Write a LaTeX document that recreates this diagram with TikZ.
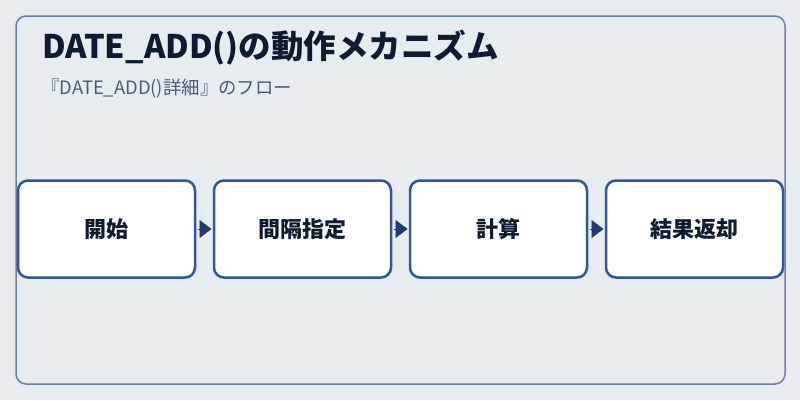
\documentclass[tikz,border=0pt]{standalone}
\usepackage{fontspec}
\setmainfont{Noto Sans CJK JP}
\usetikzlibrary{arrows.meta, positioning}

\definecolor{bgcol}{HTML}{E7ECF1}
\definecolor{framecol}{HTML}{6B80A8}
\definecolor{boxcol}{HTML}{2F55A4}
\definecolor{arrowcol}{HTML}{1E3A70}
\definecolor{titlecol}{HTML}{0F1B33}
\definecolor{subcol}{HTML}{4A5A7A}

\begin{document}
\begin{tikzpicture}[
    x=1pt, y=-1pt,
    node distance=19pt,
    panel/.style={rectangle, rounded corners=10pt, draw=framecol, line width=1.5pt, fill=bgcol, minimum width=769pt, minimum height=368pt},
    stage/.style={rectangle, rounded corners=10pt, minimum width=177pt, minimum height=97pt, outer sep=0pt, text centered, draw=boxcol, fill=white, line width=2.5pt, font=\fontsize{22pt}{26pt}\selectfont\bfseries, text=titlecol},
    arrow/.style={-{Triangle[length=12pt, width=18pt]}, draw=arrowcol, fill=arrowcol, line width=0.5pt, shorten <=2.5pt, shorten >=2.5pt},
    heading/.style={anchor=west, inner sep=0pt, text=titlecol, font=\fontsize{32.5pt}{38pt}\selectfont\bfseries},
    subheading/.style={anchor=west, inner sep=0pt, text=subcol, font=\fontsize{18.4pt}{22pt}\selectfont}
]

% Background and frame
\fill[bgcol] (0,0) rectangle (800,400);
\node (frame) [panel] at (400.5,200) {};

% Titles
\node (title) [heading] at (42,48) {DATE\_ADD()の動作メカニズム};
\node (subtitle) [subheading] at (41,89) {『DATE\_ADD()詳細』のフロー};

% Steps
\node (start) [stage] at (106.5,229) {開始};
\node (interval) [stage, right=of start] {間隔指定};
\node (calc) [stage, right=of interval] {計算};
\node (result) [stage, right=of calc] {結果返却};

% Arrows
\draw [arrow] (start) -- (interval);
\draw [arrow] (interval) -- (calc);
\draw [arrow] (calc) -- (result);

\end{tikzpicture}
\end{document}
